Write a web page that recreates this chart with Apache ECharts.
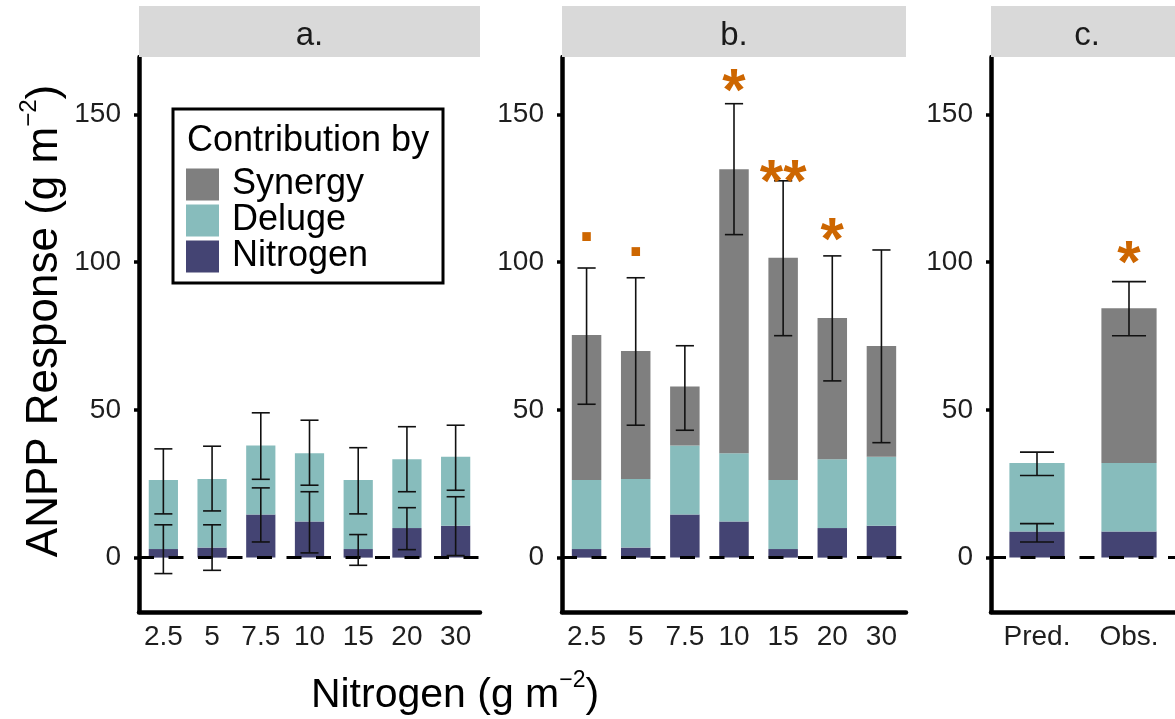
<!DOCTYPE html>
<html>
<head>
<meta charset="utf-8">
<script src="https://cdn.jsdelivr.net/npm/echarts@6/dist/echarts.min.js"></script>
<style>
html,body{margin:0;padding:0;background:#fff;}
#chart{width:1175px;height:719px;}
</style>
</head>
<body>
<div id="chart"></div>
<script>
// ---------- data ----------
const nitrogenLevels = ['2.5', '5', '7.5', '10', '15', '20', '30'];
const compareCats = ['Pred.', 'Obs.'];
const yTicks = [0, 50, 100, 150];

// contributions per nitrogen level (panels a and b)
const nitrogenContrib = [2.9, 3.4, 14.6, 12.2, 2.9, 10.0, 10.8];
const delugeContrib   = [23.4, 23.2, 23.3, 23.1, 23.4, 23.3, 23.3];
const synergyContrib  = [49.0, 43.3, 20.0, 96.1, 75.2, 47.8, 37.5];

// panel a error bars (additive total and nitrogen alone)
const aTotalLow  = [14.8, 15.8, 26.5, 24.5, 14.8, 22.3, 22.8];
const aTotalHigh = [36.8, 37.7, 49.0, 46.5, 37.2, 44.3, 44.8];
const aNitLow    = [-5.4, -4.3, 5.3, 1.6, -2.6, 2.7, 0.7];
const aNitHigh   = [11.1, 11.1, 23.6, 22.3, 7.8, 16.9, 20.6];

// panel b error bars (observed total)
const bLow  = [51.9, 44.8, 43.1, 109.3, 75.1, 59.8, 38.9];
const bHigh = [98.0, 94.7, 71.7, 153.6, 127.5, 102.1, 104.1];
const bSig  = ['.', '.', '', '*', '**', '*', ''];
const bSigY = [112.9, 107.5, null, 156.9, 126.4, 106.6, null];

// panel c
const cNitrogen = [8.8, 8.8];
const cDeluge   = [23.2, 23.2];
const cSynergy  = [null, 52.4];
const cTotalLow  = [27.8, 75.1];
const cTotalHigh = [35.7, 93.4];
const cNitLow    = [5.3, null];
const cNitHigh   = [11.5, null];
const cSig  = ['', '*'];
const cSigY = [null, 99.0];

// ---------- styling ----------
const FONT = 'Liberation Sans, Arial, sans-serif';
const COL_SYN = '#7f7f7f';
const COL_DEL = '#87bcbc';
const COL_NIT = '#444473';
const COL_SIG = '#cd6600';
const YMIN = -18.4, YMAX = 169.4;

const grids = [
  {left: 139, top: 57, width: 341, height: 555},
  {left: 562, top: 57, width: 344, height: 555},
  {left: 991, top: 57, width: 192, height: 555}
];

function xAxis(i, data) {
  return {
    type: 'category', gridIndex: i, data: data,
    axisLine: {onZero: false, lineStyle: {color: '#000', width: 4.5}},
    axisTick: {alignWithLabel: true, interval: 0, length: 5, lineStyle: {color: '#000', width: 3.5}},
    axisLabel: {interval: 0, fontSize: 28, color: '#1e1e1e', margin: 11, fontFamily: FONT}
  };
}
function yAxis(i) {
  return {
    type: 'value', gridIndex: i, min: YMIN, max: YMAX,
    axisLine: {show: true, onZero: false, lineStyle: {color: '#000', width: 4.5}},
    axisTick: {show: true, length: 5, customValues: yTicks, lineStyle: {color: '#000', width: 3.5}},
    axisLabel: {customValues: yTicks, fontSize: 28, color: '#1e1e1e', margin: 18, fontFamily: FONT},
    splitLine: {show: false}
  };
}
function bar(name, i, data, color, stack) {
  return {
    type: 'bar', name: name, xAxisIndex: i, yAxisIndex: i, stack: stack,
    data: data, barWidth: '60%', itemStyle: {color: color}, silent: true
  };
}
function errRender(params, api) {
  if (api.value(1) == null || isNaN(api.value(1))) return null;
  const idx = api.value(0);
  const lo = api.coord([idx, api.value(1)]);
  const hi = api.coord([idx, api.value(2)]);
  const w = api.size([1, 0])[0] * 0.185;
  const st = {stroke: '#111', lineWidth: 1.6};
  return {type: 'group', children: [
    {type: 'line', shape: {x1: lo[0], y1: lo[1], x2: hi[0], y2: hi[1]}, style: st},
    {type: 'line', shape: {x1: lo[0] - w, y1: lo[1], x2: lo[0] + w, y2: lo[1]}, style: st},
    {type: 'line', shape: {x1: hi[0] - w, y1: hi[1], x2: hi[0] + w, y2: hi[1]}, style: st}
  ]};
}
function errSeries(i, data) {
  return {
    type: 'custom', xAxisIndex: i, yAxisIndex: i, data: data, z: 6, silent: true,
    renderItem: errRender,
    markLine: {
      silent: true, symbol: ['none', 'none'], label: {show: false},
      lineStyle: {color: '#000', width: 3.2, type: [15, 14.5]},
      data: [{yAxis: 0}], animation: false
    }
  };
}
function sigSeries(i, labels, ys) {
  const data = [];
  labels.forEach((l, k) => { if (l) data.push([k, ys[k], l]); });
  return {
    type: 'custom', xAxisIndex: i, yAxisIndex: i, data: data, z: 7, silent: true,
    renderItem: function (params, api) {
      const p = api.coord([api.value(0), api.value(1)]);
      return {type: 'text', x: p[0], y: p[1], style: {
        text: data[params.dataIndex][2], fontSize: 60, fontWeight: 'bold', fontFamily: FONT,
        fill: COL_SIG, align: 'center', verticalAlign: 'middle'
      }};
    }
  };
}
function pairs(lo, hi) { return lo.map((v, k) => [k, v, hi[k]]); }

const series = [
  bar('Nitrogen', 0, nitrogenContrib, COL_NIT, 'a'),
  bar('Deluge', 0, delugeContrib, COL_DEL, 'a'),
  errSeries(0, pairs(aTotalLow, aTotalHigh).concat(pairs(aNitLow, aNitHigh))),

  bar('Nitrogen', 1, nitrogenContrib, COL_NIT, 'b'),
  bar('Deluge', 1, delugeContrib, COL_DEL, 'b'),
  bar('Synergy', 1, synergyContrib, COL_SYN, 'b'),
  errSeries(1, pairs(bLow, bHigh)),
  sigSeries(1, bSig, bSigY),

  bar('Nitrogen', 2, cNitrogen, COL_NIT, 'c'),
  bar('Deluge', 2, cDeluge, COL_DEL, 'c'),
  bar('Synergy', 2, cSynergy, COL_SYN, 'c'),
  errSeries(2, pairs(cTotalLow, cTotalHigh).concat(pairs(cNitLow, cNitHigh).filter(d => d[1] != null))),
  sigSeries(2, cSig, cSigY)
];

const stripLabels = ['a.', 'b.', 'c.'];
const graphics = [];
grids.forEach((g, i) => {
  graphics.push({type: 'rect', silent: true, z: 1,
    shape: {x: g.left, y: 6, width: g.width, height: 51}, style: {fill: '#d9d9d9'}});
  graphics.push({type: 'text', silent: true, z: 2, x: g.left + g.width / 2, y: 36,
    style: {text: stripLabels[i], fontSize: 33, fontFamily: FONT, fill: '#1a1a1a',
      align: 'center', verticalAlign: 'middle'}});
});
function titleRich(fs, sfs) {
  return {
    b: {fontSize: fs, fontFamily: FONT, fill: '#000', color: '#000', lineHeight: fs + 6, verticalAlign: 'bottom'},
    s: {fontSize: sfs, fontFamily: FONT, fill: '#000', color: '#000', lineHeight: fs + 6, verticalAlign: 'top'}
  };
}
graphics.push({type: 'text', silent: true, x: 455, y: 693,
  style: {text: '{b|Nitrogen (g m}{s|−2}{b|)}', rich: titleRich(41, 23), align: 'center', verticalAlign: 'middle'}});
graphics.push({type: 'text', silent: true, x: 42, y: 321, rotation: Math.PI / 2,
  style: {text: '{b|ANPP Response (g m}{s|−2}{b|)}', rich: titleRich(44, 24), align: 'center', verticalAlign: 'middle'}});
// legend box and title
graphics.push({type: 'rect', silent: true, z: 10,
  shape: {x: 173, y: 109, width: 270, height: 174},
  style: {fill: '#fff', stroke: '#000', lineWidth: 3}});
graphics.push({type: 'text', silent: true, z: 11, x: 187, y: 141,
  style: {text: 'Contribution by', fontSize: 36, fontFamily: FONT, fill: '#000',
    align: 'left', verticalAlign: 'middle'}});

const chart = echarts.init(document.getElementById('chart'), null, {renderer: 'canvas'});
chart.setOption({
  animation: false,
  backgroundColor: '#fff',
  grid: grids,
  xAxis: [xAxis(0, nitrogenLevels), xAxis(1, nitrogenLevels), xAxis(2, compareCats)],
  yAxis: [yAxis(0), yAxis(1), yAxis(2)],
  legend: {
    data: ['Synergy', 'Deluge', 'Nitrogen'], orient: 'vertical',
    left: 186, top: 166.5, padding: 0, itemGap: 0, itemWidth: 33, itemHeight: 32,
    icon: 'rect', selectedMode: false, z: 12,
    textStyle: {fontSize: 36, fontFamily: FONT, color: '#000', lineHeight: 27, padding: [8, 0, 0, 8]}
  },
  graphic: graphics,
  series: series
});
</script>
</body>
</html>
